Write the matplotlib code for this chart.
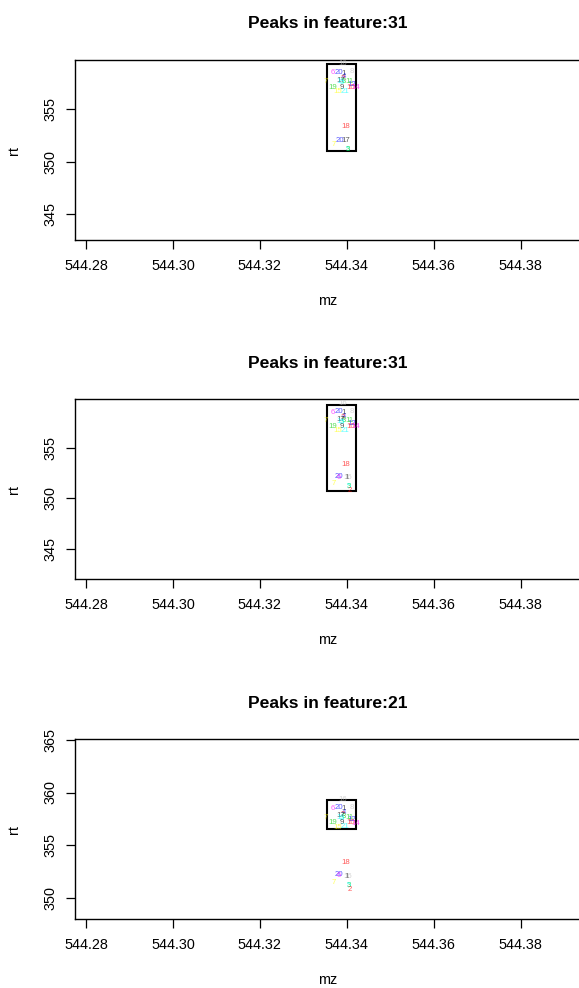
import matplotlib
matplotlib.use("Agg")
import matplotlib.pyplot as plt
from matplotlib.patches import Rectangle

W, H, DPI = 579, 988, 100

# R default palette, recycled by sample index
PALETTE = ["#000000", "#FF0000", "#00CD00", "#0000FF",
           "#00FFFF", "#FF00FF", "#FFFF00", "#BEBEBE"]

# peaks of the main rt group (sample, m/z, rt)
UPPER_SAMPLE = [16, 6, 20, 1, 8, 4, 2, 17, 13, 3, 5, 11, 7, 12, 19, 9, 10, 14, 15, 21]
UPPER_MZ = [544.33905, 544.33666, 544.33816, 544.33935, 544.34126, 544.33947,
            544.33905, 544.33870, 544.33855, 544.33924, 544.33889, 544.34062,
            544.33521, 544.34108, 544.33675, 544.33878, 544.34089, 544.34211,
            544.33790, 544.33965]
UPPER_RT = [359.35, 358.50, 358.55, 358.45, 358.58, 358.12, 357.95, 357.78,
            357.62, 357.70, 357.52, 357.65, 357.65, 357.40, 357.10, 357.10,
            357.10, 357.08, 356.68, 356.72]

# early eluting peaks, first grouping
LOWER1_SAMPLE = [18, 20, 17, 7, 5, 3]
LOWER1_MZ = [544.33973, 544.33843, 544.33970, 544.33689, 544.34034, 544.34020]
LOWER1_RT = [353.34, 352.00, 352.00, 351.65, 351.18, 351.20]

# early eluting peaks, second grouping
LOWER2_SAMPLE = [18, 20, 6, 1, 16, 7, 3, 5, 2]
LOWER2_MZ = [544.33973, 544.33827, 544.33809, 544.33993, 544.34027,
             544.33689, 544.34039, 544.34050, 544.34058]
LOWER2_RT = [353.37, 352.18, 352.10, 352.02, 352.05, 351.45, 351.12, 351.15, 350.78]

FEATURE_ID = [31, 31, 21]
FEATURE_MZMIN = [544.3355, 544.3355, 544.3355]
FEATURE_MZMAX = [544.3420, 544.3420, 544.3421]
FEATURE_RTMIN = [351.04, 350.76, 356.55]
FEATURE_RTMAX = [359.33, 359.19, 359.29]

MZ_TICKS = [544.28, 544.30, 544.32, 544.34, 544.36, 544.38]
XLIM = (544.27740, 544.39387)

# per panel: y range, y ticks, axes top in px, which lower group to show
PANELS = [
    dict(ylim=(342.51, 359.71), yticks=[345, 350, 355], top=60, lower=1),
    dict(ylim=(342.04, 359.80), yticks=[345, 350, 355], top=399, lower=2),
    dict(ylim=(347.94, 365.06), yticks=[350, 355, 360, 365], top=739.3, lower=2),
]

plt.rcParams["font.family"] = ["Liberation Sans", "DejaVu Sans"]


def draw_peaks(ax, samples, mzs, rts):
    for s, mz, rt in zip(samples, mzs, rts):
        ax.text(mz, rt, str(s), color=PALETTE[(s - 1) % len(PALETTE)], alpha=0.65,
                fontsize=5.6, ha="center", va="center", clip_on=True)


def draw_panel(fig, i, cfg):
    left_px, right_px, h_px = 74.7, 581.0, 180.0
    top_px = cfg["top"]
    ax = fig.add_axes([left_px / W, 1 - (top_px + h_px) / H,
                       (right_px - left_px) / W, h_px / H])
    ax.set_xlim(*XLIM)
    ax.set_ylim(*cfg["ylim"])
    ax.set_xticks(MZ_TICKS)
    ax.set_xticklabels([f"{t:.2f}" for t in MZ_TICKS])
    ax.set_yticks(cfg["yticks"])
    ax.set_yticklabels([str(t) for t in cfg["yticks"]], rotation=90, va="center")
    ax.tick_params(direction="out", length=6.5, width=0.9, labelsize=10.4, pad=7)
    ax.tick_params(axis="y", pad=6)
    for sp in ax.spines.values():
        sp.set_linewidth(1.0)

    draw_peaks(ax, UPPER_SAMPLE, UPPER_MZ, UPPER_RT)
    if cfg["lower"] == 1:
        draw_peaks(ax, LOWER1_SAMPLE, LOWER1_MZ, LOWER1_RT)
    else:
        draw_peaks(ax, LOWER2_SAMPLE, LOWER2_MZ, LOWER2_RT)

    ax.add_patch(Rectangle((FEATURE_MZMIN[i], FEATURE_RTMIN[i]),
                           FEATURE_MZMAX[i] - FEATURE_MZMIN[i],
                           FEATURE_RTMAX[i] - FEATURE_RTMIN[i],
                           fill=False, edgecolor="black", linewidth=1.5))

    cx = (left_px + right_px) / 2 / W
    fig.text(cx, 1 - (top_px - 36) / H, f"Peaks in feature:{FEATURE_ID[i]}",
             ha="center", va="center", fontsize=12.6, fontweight="bold")
    fig.text(cx, 1 - (top_px + h_px + 61) / H, "mz", ha="center", va="center",
             fontsize=10.4)
    fig.text(14 / W, 1 - (top_px + h_px / 2) / H, "rt", ha="center", va="center",
             rotation=90, fontsize=10.4)
    return ax


def main():
    fig = plt.figure(figsize=(W / DPI, H / DPI), dpi=DPI)
    fig.patch.set_facecolor("white")
    for i, cfg in enumerate(PANELS):
        draw_panel(fig, i, cfg)
    fig.savefig("out.png", dpi=DPI)
    plt.close(fig)


if __name__ == "__main__":
    main()
